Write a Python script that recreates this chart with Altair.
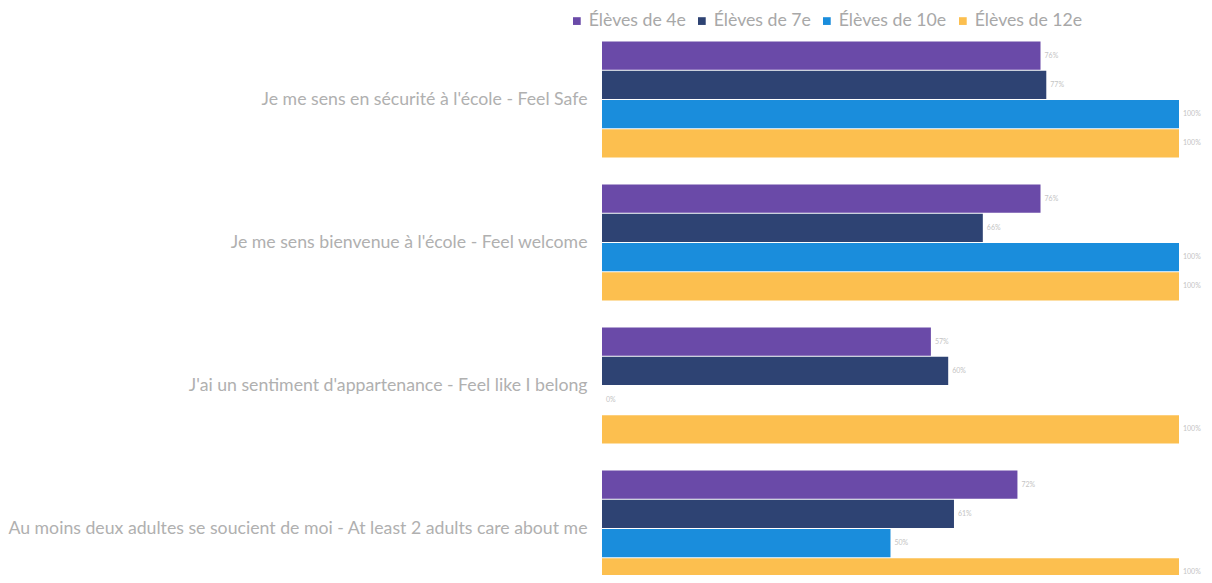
import altair as alt
import pandas as pd

categories = [
    "Je me sens en sécurité à l'école - Feel Safe",
    "Je me sens bienvenue à l'école - Feel welcome",
    "J'ai un sentiment d'appartenance - Feel like I belong",
    "Au moins deux adultes se soucient de moi - At least 2 adults care about me",
]
series = ["Élèves de 4e", "Élèves de 7e", "Élèves de 10e", "Élèves de 12e"]
colors = ["#6a4aa8", "#2e4373", "#1a8ddc", "#fcbf4f"]

v4 = [76, 76, 57, 72]
v7 = [77, 66, 60, 61]
v10 = [100, 100, 0, 50]
v12 = [100, 100, 100, 100]

rows = []
for i, c in enumerate(categories):
    for s, vals in zip(series, [v4, v7, v10, v12]):
        rows.append({"cat": c, "grp": s, "val": vals[i], "lbl": f"{vals[i]}%"})
df = pd.DataFrame(rows)

font = "Lato"

y = alt.Y("cat:N", sort=categories, title=None,
          scale=alt.Scale(range=[0, 572], paddingInner=0.19, paddingOuter=0.095),
          axis=alt.Axis(labelColor="#b0b0b0", labelFont=font, labelFontSize=17.7,
                        labelLimit=700, ticks=False, domain=False, labelPadding=15))
yo = alt.YOffset("grp:N", sort=series, scale=alt.Scale(paddingInner=0.04))
x = alt.X("val:Q", scale=alt.Scale(domain=[0, 100]), axis=None)

bars = alt.Chart(df).mark_bar().encode(
    x=x, y=y, yOffset=yo,
    color=alt.Color("grp:N", sort=series,
                    scale=alt.Scale(domain=series, range=colors),
                    legend=alt.Legend(title=None, orient="none", direction="horizontal",
                                      legendX=-34, legendY=-16, columns=4,
                                      symbolType="square", symbolSize=60,
                                      labelFont=font, labelFontSize=17.7,
                                      labelColor="#a8a8a8", columnPadding=7,
                                      symbolOffset=0, labelOffset=3)),
)

labels = alt.Chart(df).mark_text(align="left", baseline="middle", dx=4,
                                 fontSize=7, color="#c4c4c4", font=font).encode(
    x=x, y=y, yOffset=yo, text="lbl:N")

chart = (bars + labels).properties(
    width=577, height=547,
    autosize=alt.AutoSizeParams(type="none"),
    padding={"left": 594, "top": 20, "right": 25, "bottom": 0},
).configure_view(stroke=None)

chart.save("out.html", embed_options={"renderer": "svg", "actions": False})
